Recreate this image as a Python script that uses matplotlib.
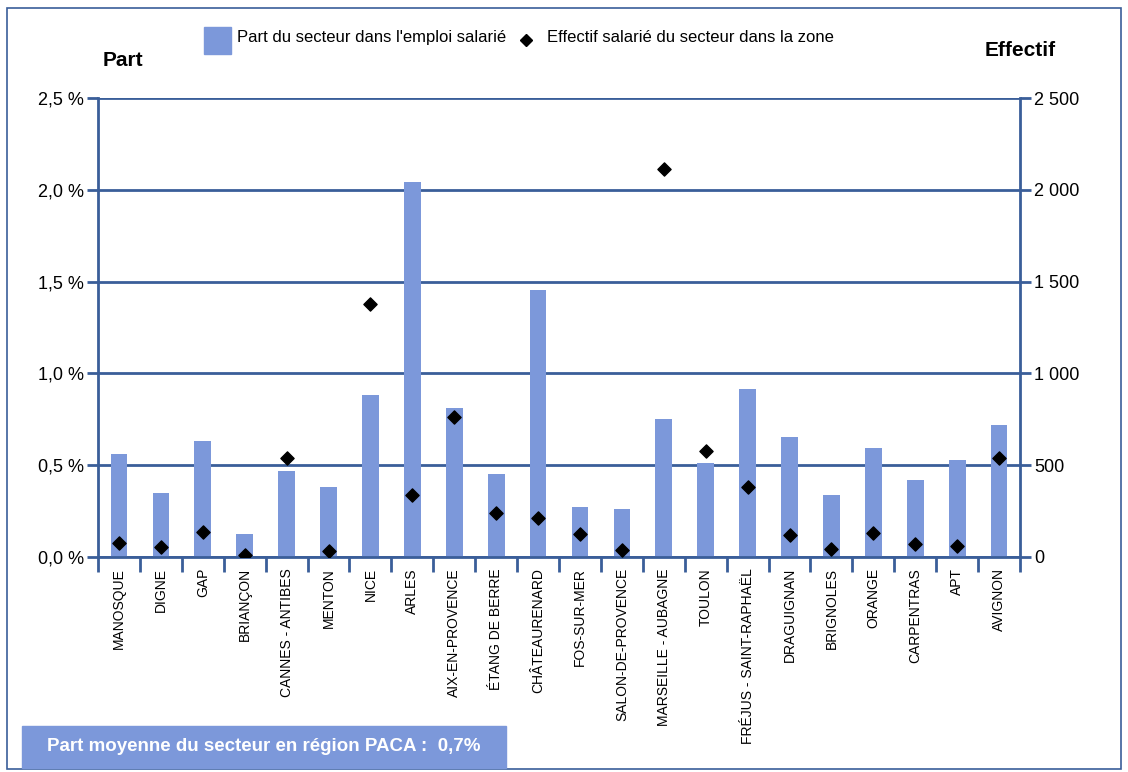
import matplotlib.pyplot as plt
from matplotlib.patches import Rectangle
from matplotlib.ticker import FuncFormatter

plt.rcParams['font.family'] = ['Liberation Sans', 'DejaVu Sans']

zones = ['MANOSQUE', 'DIGNE', 'GAP', 'BRIANÇON', 'CANNES - ANTIBES', 'MENTON',
         'NICE', 'ARLES', 'AIX-EN-PROVENCE', 'ÉTANG DE BERRE', 'CHÂTEAURENARD',
         'FOS-SUR-MER', 'SALON-DE-PROVENCE', 'MARSEILLE - AUBAGNE', 'TOULON',
         'FRÉJUS - SAINT-RAPHAËL', 'DRAGUIGNAN', 'BRIGNOLES', 'ORANGE',
         'CARPENTRAS', 'APT', 'AVIGNON']
part = [0.56, 0.35, 0.63, 0.125, 0.47, 0.38, 0.88, 2.04, 0.81, 0.45, 1.455,
        0.27, 0.26, 0.75, 0.51, 0.915, 0.655, 0.34, 0.595, 0.42, 0.53, 0.72]
effectif = [76, 54, 136, 11, 539, 33, 1378, 338, 763, 240, 212,
            125, 38, 2113, 577, 381, 120, 44, 131, 71, 60, 539]

bar_color = '#7C98DA'
line_color = '#3A5E99'

fig = plt.figure(figsize=(11.28, 7.72), dpi=100)
fig.patches.append(Rectangle((0.006, 0.004), 0.988, 0.985, transform=fig.transFigure,
                             fill=False, edgecolor=line_color, linewidth=1.2))

ax = fig.add_axes([0.0869, 0.2785, 0.8174, 0.5945])
x = list(range(len(zones)))
ax.bar(x, part, width=0.4, color=bar_color, zorder=2)
ax.set_xlim(-0.5, len(zones) - 0.5)
ax.set_ylim(0, 2.5)
ax.set_yticks([0, 0.5, 1.0, 1.5, 2.0, 2.5])
ax.yaxis.set_major_formatter(FuncFormatter(lambda v, p: f'{v:.1f} %'.replace('.', ',')))
ax.grid(axis='y', color=line_color, linewidth=2, zorder=1)
ax.set_axisbelow(True)

ax.set_xticks(x)
ax.set_xticklabels(zones, rotation=90, fontsize=10)
ax.tick_params(axis='x', length=0, pad=8)
ax.set_xticks([i - 0.5 for i in range(len(zones) + 1)], minor=True)
ax.tick_params(axis='x', which='minor', length=11, width=2, color=line_color)
ax.tick_params(axis='y', length=8, width=2, color=line_color, labelsize=13, pad=2)

for s in ['left', 'right', 'bottom']:
    ax.spines[s].set_color(line_color)
    ax.spines[s].set_linewidth(2)
ax.spines['top'].set_visible(False)

ax2 = ax.twinx()
ax2.scatter(x, effectif, marker='D', s=45, color='black', zorder=3)
ax2.set_ylim(0, 2500)
ax2.set_yticks([0, 500, 1000, 1500, 2000, 2500])
ax2.yaxis.set_major_formatter(FuncFormatter(lambda v, p: f'{int(v):,}'.replace(',', ' ')))
ax2.tick_params(axis='y', length=8, width=2, color=line_color, labelsize=13, pad=2)
for s in ['left', 'right', 'bottom', 'top']:
    ax2.spines[s].set_visible(False)

# titres des axes
fig.text(0.091, 0.922, 'Part', fontsize=15, fontweight='bold', va='center')
fig.text(0.936, 0.934, 'Effectif', fontsize=15, fontweight='bold', va='center', ha='right')

# legende
fig.patches.append(Rectangle((0.1808, 0.930), 0.0240, 0.035, transform=fig.transFigure,
                             color=bar_color))
fig.text(0.210, 0.952, "Part du secteur dans l'emploi salarié", fontsize=12, va='center')
fig.lines.append(plt.Line2D([0.466], [0.948], transform=fig.transFigure, marker='D',
                            markersize=6.5, color='black', linestyle='none'))
fig.text(0.485, 0.952, 'Effectif salarié du secteur dans la zone', fontsize=12, va='center')

# encadre du bas
fig.patches.append(Rectangle((0.0195, 0.005), 0.429, 0.055, transform=fig.transFigure,
                             color=bar_color))
fig.text(0.234, 0.0325, 'Part moyenne du secteur en région PACA :  0,7%', fontsize=13.5,
         fontweight='bold', color='white', ha='center', va='center')

fig.savefig('out.png', dpi=100)
